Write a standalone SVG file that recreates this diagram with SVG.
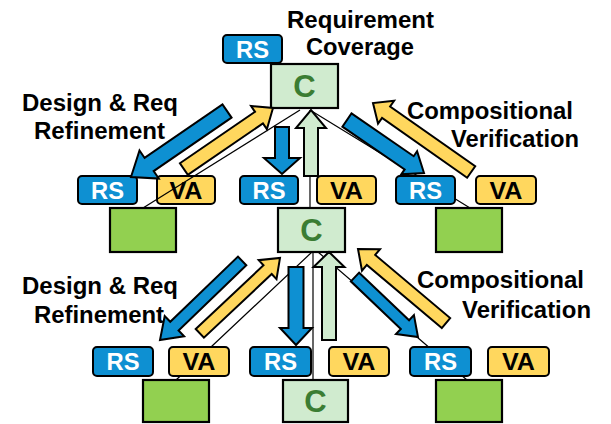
<svg xmlns="http://www.w3.org/2000/svg" width="611" height="424" viewBox="0 0 611 424">
<style>
text{font-family:"Liberation Sans",Arial,sans-serif;font-weight:bold;text-anchor:middle}
.lbl{font-size:23px;fill:#000}
.rs rect{fill:#0E90D2;stroke:#000;stroke-width:2}
.rs text{font-size:24px;fill:#fff}
.va rect{fill:#FFD75E;stroke:#000;stroke-width:2}
.va text{font-size:24px;fill:#000}
.cbox rect{fill:#D0EBCF;stroke:#000;stroke-width:2.2}
.cbox text{font-size:31px;fill:#3B7D33}
.gbox rect{fill:#92D050;stroke:#000;stroke-width:2.2}
.ln{stroke:#000;stroke-width:1.2;fill:none}
.ab{fill:#0E90D2;stroke:#000;stroke-width:2}
.ay{fill:#FFD75E;stroke:#000;stroke-width:2}
.ag{fill:#D0EBCF;stroke:#000;stroke-width:2}
</style>
<g id="labels">
<text class="lbl" x="360.5" y="28" textLength="147" lengthAdjust="spacingAndGlyphs">Requirement</text>
<text class="lbl" x="360" y="55" textLength="108" lengthAdjust="spacingAndGlyphs">Coverage</text>
<text class="lbl" x="100" y="111" textLength="156" lengthAdjust="spacingAndGlyphs">Design &amp; Req</text>
<text class="lbl" x="99.5" y="139" textLength="131" lengthAdjust="spacingAndGlyphs">Refinement</text>
<text class="lbl" x="490" y="119" textLength="166" lengthAdjust="spacingAndGlyphs">Compositional</text>
<text class="lbl" x="515" y="147" textLength="128" lengthAdjust="spacingAndGlyphs">Verification</text>
<text class="lbl" x="100" y="294" textLength="156" lengthAdjust="spacingAndGlyphs">Design &amp; Req</text>
<text class="lbl" x="99" y="323" textLength="130" lengthAdjust="spacingAndGlyphs">Refinement</text>
<text class="lbl" x="500.5" y="288" textLength="167" lengthAdjust="spacingAndGlyphs">Compositional</text>
<text class="lbl" x="526.5" y="318" textLength="129" lengthAdjust="spacingAndGlyphs">Verification</text>
</g>
<g id="nodes">
<g id="rs0" class="rs"><rect x="223" y="35" width="59" height="28" rx="4"/><text x="252.5" y="57.5" textLength="33" lengthAdjust="spacingAndGlyphs">RS</text></g>
<g id="c0" class="cbox"><rect x="271" y="64" width="67" height="44"/><text x="304.5" y="97">C</text></g>

<g id="rs1a" class="rs"><rect x="78" y="176" width="59" height="28" rx="4"/><text x="107.5" y="198.5" textLength="33" lengthAdjust="spacingAndGlyphs">RS</text></g>
<g id="va1a" class="va"><rect x="157" y="176" width="58" height="28" rx="4"/><text x="186" y="198.5" textLength="33" lengthAdjust="spacingAndGlyphs">VA</text></g>
<g id="rs1b" class="rs"><rect x="240" y="176" width="58" height="28" rx="4"/><text x="269" y="198.5" textLength="33" lengthAdjust="spacingAndGlyphs">RS</text></g>
<g id="va1b" class="va"><rect x="317" y="176" width="59" height="28" rx="4"/><text x="346.5" y="198.5" textLength="33" lengthAdjust="spacingAndGlyphs">VA</text></g>
<g id="rs1c" class="rs"><rect x="396" y="176" width="59" height="28" rx="4"/><text x="425.5" y="198.5" textLength="33" lengthAdjust="spacingAndGlyphs">RS</text></g>
<g id="va1c" class="va"><rect x="476" y="176" width="60" height="28" rx="4"/><text x="506" y="198.5" textLength="33" lengthAdjust="spacingAndGlyphs">VA</text></g>

<g id="g1a" class="gbox"><rect x="110" y="208" width="66" height="44"/></g>
<g id="c1" class="cbox"><rect x="278" y="208" width="67" height="44"/><text x="311.5" y="241">C</text></g>
<g id="g1c" class="gbox"><rect x="436" y="208" width="66" height="44"/></g>

<g id="rs2a" class="rs"><rect x="93" y="347" width="60" height="29" rx="4"/><text x="123" y="370" textLength="33" lengthAdjust="spacingAndGlyphs">RS</text></g>
<g id="va2a" class="va"><rect x="169" y="347" width="60" height="29" rx="4"/><text x="199" y="370" textLength="33" lengthAdjust="spacingAndGlyphs">VA</text></g>
<g id="rs2b" class="rs"><rect x="250" y="347" width="61" height="29" rx="4"/><text x="280.5" y="370" textLength="33" lengthAdjust="spacingAndGlyphs">RS</text></g>
<g id="va2b" class="va"><rect x="329" y="347" width="60" height="29" rx="4"/><text x="359" y="370" textLength="33" lengthAdjust="spacingAndGlyphs">VA</text></g>
<g id="rs2c" class="rs"><rect x="410" y="347" width="61" height="29" rx="4"/><text x="440.5" y="370" textLength="33" lengthAdjust="spacingAndGlyphs">RS</text></g>
<g id="va2c" class="va"><rect x="488" y="347" width="61" height="29" rx="4"/><text x="518.5" y="370" textLength="33" lengthAdjust="spacingAndGlyphs">VA</text></g>

<g id="g2a" class="gbox"><rect x="143" y="380" width="66" height="42"/></g>
<g id="c2" class="cbox"><rect x="283" y="380" width="65" height="42"/><text x="315.5" y="412">C</text></g>
<g id="g2c" class="gbox"><rect x="436" y="380" width="66" height="42"/></g>
</g>
<g id="connectors">
<path class="ln" d="M300,110 L143,208"/>
<path class="ln" d="M310,110 L310,208"/>
<path class="ln" d="M310,110 L417.8,176 M455,198.8 L470,208"/>
<path class="ln" d="M312,252 L211,347 M180.3,376 L176,380"/>
<path class="ln" d="M313,252 L313,380"/>
<path class="ln" d="M318,252 L428.6,347 M462.3,376 L467,380"/>

<path class="ab" transform="translate(131,177) rotate(145.5)" d="M-116.5,-8 L-22,-8 L-22,-17 L0,0 L-22,17 L-22,8 L-116.5,8 Z"/>
<path class="ay" transform="translate(273,108) rotate(-34.4)" d="M-108,-7 L-17,-7 L-17,-14 L0,0 L-17,14 L-17,7 L-108,7 Z"/>
<path class="ab" transform="translate(282,174) rotate(90)" d="M-47,-7 L-16,-7 L-16,-18 L0,0 L-16,18 L-16,7 L-47,7 Z"/>
<path class="ag" transform="translate(311,110) rotate(-90)" d="M-66,-7 L-18,-7 L-18,-15 L0,0 L-18,15 L-18,7 L-66,7 Z"/>
<path class="ab" transform="translate(424,173) rotate(34.5)" d="M-93.5,-8 L-18,-8 L-18,-14 L0,0 L-18,14 L-18,8 L-93.5,8 Z"/>
<path class="ay" transform="translate(373,103) rotate(-144.9)" d="M-120,-7 L-16,-7 L-16,-14 L0,0 L-16,14 L-16,7 L-120,7 Z"/>

<path class="ab" transform="translate(160,340) rotate(136.1)" d="M-114,-6 L-20,-6 L-20,-14 L0,0 L-20,14 L-20,6 L-114,6 Z"/>
<path class="ay" transform="translate(280,258) rotate(-43.2)" d="M-110,-6 L-17,-6 L-17,-13 L0,0 L-17,13 L-17,6 L-110,6 Z"/>
<path class="ab" transform="translate(296,345) rotate(90)" d="M-78,-7.5 L-17,-7.5 L-17,-16 L0,0 L-17,16 L-17,7.5 L-78,7.5 Z"/>
<path class="ag" transform="translate(329,252) rotate(-90)" d="M-88,-7 L-15,-7 L-15,-15.5 L0,0 L-15,15.5 L-15,7 L-88,7 Z"/>
<path class="ab" transform="translate(418,337) rotate(43.6)" d="M-87,-6 L-18,-6 L-18,-13 L0,0 L-18,13 L-18,6 L-87,6 Z"/>
<path class="ay" transform="translate(358,249) rotate(-139.9)" d="M-115,-6.5 L-17,-6.5 L-17,-14 L0,0 L-17,14 L-17,6.5 L-115,6.5 Z"/>
</g>
</svg>
